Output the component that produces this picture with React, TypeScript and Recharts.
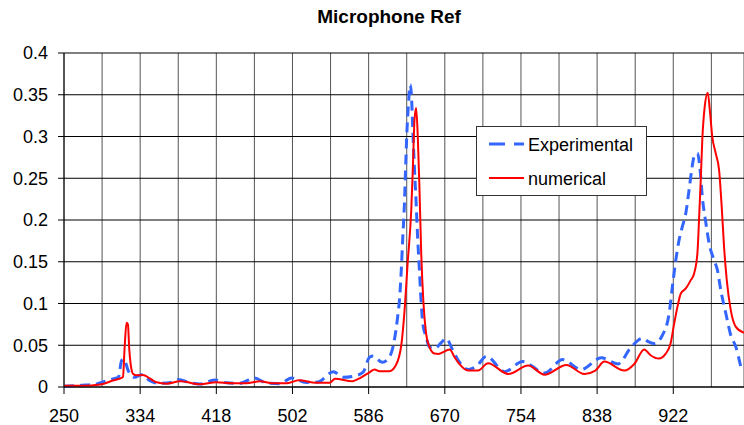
import React from "react";
import { LineChart, Line, XAxis, YAxis, CartesianGrid } from "recharts";

const expX = [250, 270, 286, 293, 304, 310, 313.5, 316, 320.8, 328, 335.5, 344.7, 355.7, 366.7, 376, 389, 400, 416, 429, 444, 460, 473, 488, 501, 517, 530, 547, 558, 572, 580, 587, 591, 601, 609, 614, 618, 620, 622, 623.7, 625.5, 626.7, 628, 630, 632, 633.6, 634.7, 636.6, 638.4, 640, 642, 644, 645.7, 649.4, 653, 658.6, 666, 671.5, 678.8, 686, 695.7, 705, 716, 736, 756, 780, 800, 820.5, 842.5, 861, 875.5, 888, 895, 901, 910, 917.4, 921, 924.8, 928.4, 932, 935.8, 939.4, 942.3, 945, 948.6, 951.6, 954, 958, 961.5, 967, 970.7, 974.4, 980, 985.4, 991, 996.5];
const expY = [0.001, 0.002, 0.0036, 0.006, 0.0096, 0.0116, 0.0316, 0.0336, 0.0196, 0.0116, 0.0148, 0.0076, 0.0044, 0.005, 0.009, 0.005, 0.0035, 0.0085, 0.005, 0.0045, 0.0108, 0.005, 0.004, 0.0108, 0.0055, 0.006, 0.0184, 0.0116, 0.0136, 0.018, 0.0356, 0.037, 0.0296, 0.036, 0.054, 0.084, 0.104, 0.14, 0.18, 0.22, 0.26, 0.3, 0.34, 0.362, 0.34, 0.308, 0.26, 0.22, 0.18, 0.14, 0.1, 0.076, 0.06, 0.048, 0.046, 0.053, 0.058, 0.044, 0.03, 0.021, 0.025, 0.0368, 0.0184, 0.0304, 0.0168, 0.0328, 0.0208, 0.035, 0.0276, 0.0476, 0.0584, 0.054, 0.052, 0.062, 0.088, 0.12, 0.152, 0.176, 0.192, 0.208, 0.236, 0.26, 0.276, 0.28, 0.26, 0.228, 0.196, 0.172, 0.152, 0.14, 0.116, 0.088, 0.062, 0.048, 0.024];

const numX = [250, 270, 290, 304, 313.5, 315, 317, 319, 320.5, 322, 323.5, 326, 330, 337, 345, 352, 363, 378, 400, 418, 436, 451, 466, 480, 495, 509, 528, 543, 549, 568, 576, 587, 592.5, 598, 609, 616, 622, 625.5, 629, 633, 634.7, 636.6, 638.4, 640.2, 642, 644, 646.5, 649.4, 653, 658.6, 663, 675.5, 680.6, 686, 695.7, 706.7, 717.7, 740, 762, 780, 804, 824, 836, 846, 868, 879, 890, 897, 906, 913.7, 919, 923, 926.6, 930.3, 935.8, 941.3, 945, 948.6, 950.4, 952.3, 954, 956.7, 960, 962.6, 965, 968.8, 972.5, 975.4, 978, 981, 985.4, 991, 1000];
const numY = [0.0015, 0.0015, 0.003, 0.0077, 0.011, 0.012, 0.05, 0.077, 0.075, 0.045, 0.0276, 0.016, 0.014, 0.0144, 0.01, 0.0056, 0.004, 0.0068, 0.0032, 0.0056, 0.0044, 0.0044, 0.0068, 0.0044, 0.0044, 0.008, 0.005, 0.005, 0.01, 0.007, 0.0104, 0.0176, 0.021, 0.019, 0.019, 0.026, 0.05, 0.09, 0.148, 0.212, 0.26, 0.32, 0.334, 0.3, 0.24, 0.16, 0.1, 0.064, 0.048, 0.04, 0.0396, 0.045, 0.036, 0.0276, 0.0197, 0.0197, 0.0284, 0.0156, 0.0256, 0.0148, 0.0264, 0.0156, 0.0197, 0.0304, 0.0197, 0.0276, 0.045, 0.038, 0.034, 0.04, 0.052, 0.076, 0.096, 0.112, 0.118, 0.128, 0.136, 0.16, 0.2, 0.248, 0.296, 0.336, 0.3525, 0.328, 0.3, 0.28, 0.26, 0.216, 0.168, 0.128, 0.092, 0.072, 0.065];

const xGridTicks = [250, 292, 334, 376, 418, 460, 502, 544, 586, 628, 670, 712, 754, 796, 838, 880, 922, 964];
const xLabelTicks = [250, 334, 418, 502, 586, 670, 754, 838, 922];
const yTicks = [0, 0.05, 0.1, 0.15, 0.2, 0.25, 0.3, 0.35, 0.4];

const seriesNames = ["Experimental", "numerical"];
const title = "Microphone Ref";

const expData = expX.map((x, i) => ({ x, y: expY[i] }));
const numData = numX.map((x, i) => ({ x, y: numY[i] }));

const FONT = "'Liberation Sans', Arial, sans-serif";
const BLUE = "#3366ff";
const RED = "#ff0000";

const XTick = (props: any) => {
  const { x, y, payload } = props;
  const v = payload.value;
  if (!xLabelTicks.includes(v)) return <g />;
  return (
    <g>
      <line x1={x} x2={x} y1={y} y2={y + 7} stroke="#000" strokeWidth={1} />
      <text x={x} y={y + 22} dy="0.71em" textAnchor="middle" fontSize={18} fontFamily={FONT} fill="#000">
        {v}
      </text>
    </g>
  );
};

export default function App() {
  return (
    <div style={{ position: "absolute", left: 0, top: 0, width: 744, height: 425, background: "#fff", fontFamily: FONT }}>
      <LineChart width={744} height={425} data={expData} margin={{ top: 53, right: 0, bottom: 0, left: 0 }}>
        <CartesianGrid stroke="#555" strokeWidth={1} horizontal={false} vertical={true} />
        <CartesianGrid stroke="#000" strokeWidth={1} horizontal={true} vertical={false} />
        <XAxis
          dataKey="x"
          type="number"
          domain={[250, 1000]}
          ticks={xGridTicks}
          interval={0}
          allowDataOverflow
          height={38}
          tickLine={false}
          tickSize={0}
          tickMargin={0}
          tick={<XTick />}
          axisLine={{ stroke: "#000" }}
        />
        <YAxis
          type="number"
          domain={[0, 0.4]}
          ticks={yTicks}
          interval={0}
          width={64}
          tickSize={6}
          tickMargin={10}
          tickLine={{ stroke: "#000" }}
          axisLine={{ stroke: "#000" }}
          tick={{ fontSize: 18, fontFamily: FONT, fill: "#000" }}
        />
        <Line
          data={expData}
          dataKey="y"
          name={seriesNames[0]}
          type="monotone"
          stroke={BLUE}
          strokeWidth={3}
          strokeDasharray="10 6"
          dot={false}
          isAnimationActive={false}
        />
        <Line
          data={numData}
          dataKey="y"
          name={seriesNames[1]}
          type="monotone"
          stroke={RED}
          strokeWidth={2}
          dot={false}
          isAnimationActive={false}
        />
      </LineChart>
      <svg width={744} height={425} style={{ position: "absolute", left: 0, top: 0, pointerEvents: "none" }}>
        <text x={389} y={23} textAnchor="middle" fontSize={19} fontWeight="bold" fontFamily={FONT} fill="#000">
          {title}
        </text>
        <rect x={476.5} y={126.5} width={170} height={69} fill="#fff" stroke="#333" strokeWidth={1} />
        <line x1={489} x2={524} y1={144} y2={144} stroke={BLUE} strokeWidth={3} strokeDasharray="16 9" />
        <text x={528} y={150.5} fontSize={18} fontFamily={FONT} fill="#000">
          {seriesNames[0]}
        </text>
        <line x1={489} x2={524} y1={178} y2={178} stroke={RED} strokeWidth={2} />
        <text x={528} y={184.5} fontSize={18} fontFamily={FONT} fill="#000">
          {seriesNames[1]}
        </text>
      </svg>
    </div>
  );
}
